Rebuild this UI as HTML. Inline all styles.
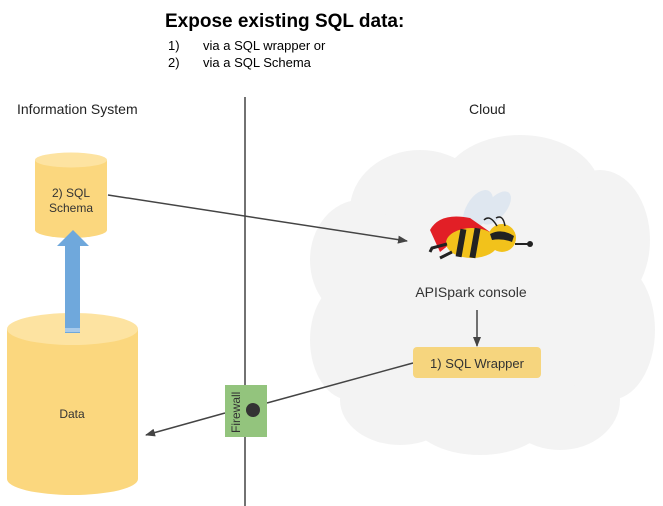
<!DOCTYPE html>
<html><head><meta charset="utf-8"><style>
html,body{margin:0;padding:0;background:#fff}
svg{display:block}
text{font-family:"Liberation Sans",Arial,sans-serif}
</style></head><body>
<svg width="663" height="506" viewBox="0 0 663 506" xmlns="http://www.w3.org/2000/svg">
<defs>
<marker id="ah" markerWidth="10" markerHeight="8" refX="9" refY="4" orient="auto" markerUnits="userSpaceOnUse">
<path d="M0,0 L10,4 L0,8 Z" fill="#444"/></marker>
</defs>
<!-- title -->
<text x="165" y="27" font-size="19" font-weight="bold" fill="#000">Expose existing SQL data:</text>
<text x="168" y="50" font-size="13" fill="#000">1)</text>
<text x="203" y="50" font-size="13" fill="#000">via a SQL wrapper  or</text>
<text x="168" y="67" font-size="13" fill="#000">2)</text>
<text x="203" y="67" font-size="13" fill="#000">via a SQL Schema</text>
<text x="17" y="114" font-size="14" fill="#222">Information System</text>
<text x="469" y="114" font-size="14" fill="#222">Cloud</text>
<!-- cloud -->
<g fill="#f3f3f3">
<ellipse cx="420" cy="210" rx="70" ry="60"/>
<ellipse cx="520" cy="190" rx="80" ry="55"/>
<ellipse cx="600" cy="240" rx="50" ry="70"/>
<ellipse cx="610" cy="330" rx="45" ry="70"/>
<ellipse cx="560" cy="400" rx="60" ry="50"/>
<ellipse cx="480" cy="415" rx="70" ry="40"/>
<ellipse cx="400" cy="400" rx="60" ry="45"/>
<ellipse cx="350" cy="340" rx="40" ry="60"/>
<ellipse cx="360" cy="260" rx="50" ry="60"/>
<ellipse cx="480" cy="300" rx="150" ry="110"/>
</g>
<!-- vertical separator -->
<line x1="245" y1="97" x2="245" y2="506" stroke="#444" stroke-width="1.5"/>
<!-- schema cylinder -->
<path d="M35,160 L35,230 A36,8 0 0 0 107,230 L107,160 Z" fill="#fbd77e"/>
<ellipse cx="71" cy="160" rx="36" ry="7.5" fill="#fde3a1"/>
<text x="71" y="197" font-size="12" fill="#333" text-anchor="middle">2) SQL</text>
<text x="71" y="212" font-size="12" fill="#333" text-anchor="middle">Schema</text>
<!-- data cylinder -->
<path d="M7,329 L7,479 A65.5,16 0 0 0 138,479 L138,329 Z" fill="#fbd77e"/>
<ellipse cx="72.5" cy="329" rx="65.5" ry="16" fill="#fde3a1"/>
<text x="72" y="418" font-size="12" fill="#333" text-anchor="middle">Data</text>
<!-- blue arrow -->
<path d="M65,333 L65,246 L57,246 L73,230 L89,246 L80,246 L80,333 Z" fill="#6fa8dc"/>
<line x1="65" y1="329" x2="80" y2="329" stroke="#fff" stroke-width="0.8"/>
<line x1="65" y1="331" x2="80" y2="331" stroke="#fff" stroke-width="0.8"/>
<!-- connectors -->
<line x1="108" y1="195" x2="407" y2="241" stroke="#444" stroke-width="1.5" marker-end="url(#ah)"/>
<line x1="413" y1="363" x2="267" y2="403" stroke="#444" stroke-width="1.5"/>
<line x1="225" y1="413" x2="146" y2="435" stroke="#444" stroke-width="1.5" marker-end="url(#ah)"/>
<line x1="477" y1="310" x2="477" y2="346" stroke="#444" stroke-width="1.5" marker-end="url(#ah)"/>
<!-- firewall -->
<rect x="225" y="385" width="42" height="52" fill="#93c47d"/>
<circle cx="253" cy="410" r="7" fill="#333"/>
<text transform="translate(240,433) rotate(-90)" font-size="12" fill="#333">Firewall</text>
<!-- wrapper -->
<rect x="413" y="347" width="128" height="31" rx="4" fill="#f6d57e"/>
<text x="477" y="368" font-size="13" fill="#333" text-anchor="middle">1) SQL Wrapper</text>
<!-- APISpark label -->
<text x="471" y="297" font-size="14" fill="#333" text-anchor="middle">APISpark console</text>
<!-- bee -->
<g>
<ellipse cx="478" cy="210" rx="12" ry="22" transform="rotate(30 478 210)" fill="#dfe7f0"/>
<ellipse cx="496" cy="208" rx="10" ry="20" transform="rotate(40 496 208)" fill="#dfe7f0"/>
<path d="M430,230 Q440,212 470,218 L490,232 Q470,236 455,240 L440,252 Z" fill="#e21f26"/>
<ellipse cx="472" cy="243" rx="26" ry="15" fill="#f2c21b"/>
<rect x="458" y="229" width="6" height="28" fill="#222" transform="rotate(10 461 243)"/>
<rect x="472" y="228" width="6" height="30" fill="#222" transform="rotate(10 475 243)"/>
<circle cx="502" cy="238" r="14" fill="#f2c21b"/>
<path d="M490,234 Q502,228 514,236 L512,242 Q502,238 492,240 Z" fill="#222"/>
<path d="M497,226 Q490,214 484,220" stroke="#222" stroke-width="1.5" fill="none"/>
<path d="M505,226 Q503,214 496,218" stroke="#222" stroke-width="1.5" fill="none"/>
<line x1="515" y1="244" x2="530" y2="244" stroke="#222" stroke-width="2"/>
<circle cx="530" cy="244" r="3" fill="#222"/>
<path d="M447,244 L432,248 L430,252 M452,252 L440,258" stroke="#222" stroke-width="3" fill="none"/>
</g>
</svg>
</body></html>
